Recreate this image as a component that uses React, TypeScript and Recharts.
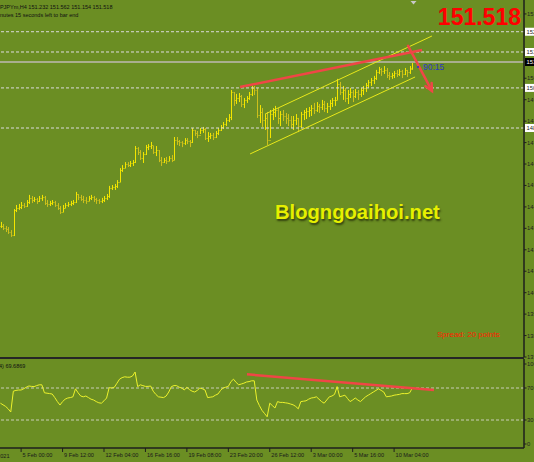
import React from 'react';
import { Bar, ComposedChart, Line, ReferenceLine, XAxis, YAxis } from 'recharts';

// GBPJPYm H4 bars, 3 Feb 2021 16:00 .. 10 Mar 2021 08:00
const highs = [
  144.06, 143.96, 143.87, 143.82, 143.68, 144.66, 144.85, 144.9, 144.99, 144.94,
  145.08, 145.32, 145.27, 145.22, 145.18, 145.27, 145.32, 145.27, 145.08, 145.04,
  145.08, 145.04, 144.94, 144.8, 144.85, 144.94, 144.99, 145.04, 145.08, 145.46,
  145.36, 145.32, 145.27, 145.22, 145.27, 145.32, 145.27, 145.18, 145.13, 145.18,
  145.27, 145.36, 145.74, 145.78, 145.83, 146.01, 146.57, 146.71, 146.85, 146.85,
  146.9, 146.95, 147.6, 147.55, 147.41, 147.32, 147.65, 147.69, 147.79, 147.6,
  147.6, 147.41, 147.09, 147.04, 147.09, 147.13, 147.18, 148.02, 148.02, 147.88,
  147.83, 147.97, 147.97, 147.88, 148.44, 148.35, 148.3, 148.44, 148.49, 148.44,
  148.25, 148.21, 148.21, 148.3, 148.44, 148.58, 148.72, 148.91, 149.09, 150.21,
  150.12, 150.03, 150.07, 149.98, 149.84, 149.93, 150.12, 150.4, 150.4, 150.31,
  149.51, 149.37, 149.09, 149.19, 149.28, 149.37, 149.47, 149.37, 149.23, 149.28,
  149.14, 149.09, 149.0, 149.0, 149.09, 148.91, 149.19, 149.28, 149.37, 149.42,
  149.51, 149.61, 149.65, 149.56, 149.75, 149.7, 149.61, 149.75, 149.84, 149.89,
  150.73, 150.59, 150.4, 150.31, 150.21, 150.31, 150.21, 150.26, 150.21, 150.31,
  150.4, 150.54, 150.68, 150.77, 150.87, 151.15, 151.29, 151.24, 151.33, 151.24,
  151.05, 151.01, 151.1, 151.15, 151.19, 151.15, 151.24, 151.15, 151.33, 151.562,
];
const lows = [
  143.78, 143.68, 143.59, 143.5, 143.36, 143.4, 144.52, 144.62, 144.66, 144.71,
  144.76, 144.9, 144.94, 144.99, 144.9, 144.99, 145.04, 144.85, 144.76, 144.8,
  144.85, 144.76, 144.62, 144.43, 144.52, 144.71, 144.76, 144.8, 144.85, 144.94,
  145.08, 145.04, 144.94, 144.9, 145.04, 145.08, 144.99, 144.9, 144.9, 144.94,
  144.99, 145.08, 145.18, 145.55, 145.55, 145.64, 145.92, 146.39, 146.57, 146.62,
  146.62, 146.67, 146.81, 147.18, 146.95, 146.81, 147.18, 147.41, 147.46, 147.23,
  147.13, 146.85, 146.67, 146.81, 146.76, 146.9, 146.85, 146.95, 147.65, 147.6,
  147.55, 147.65, 147.69, 147.55, 147.74, 148.07, 147.97, 148.16, 148.21, 147.88,
  147.79, 147.93, 147.88, 147.97, 148.11, 148.3, 148.39, 148.53, 148.72, 148.81,
  149.47, 149.56, 149.65, 149.42, 149.37, 149.61, 149.75, 149.93, 149.98, 148.91,
  148.67, 148.49, 148.35, 147.65, 147.97, 148.81, 148.95, 148.63, 148.53, 148.77,
  148.63, 148.53, 148.44, 148.35, 148.58, 148.25, 148.44, 148.81, 148.86, 148.95,
  149.0, 149.09, 149.19, 149.14, 149.28, 149.19, 149.14, 149.28, 149.42, 149.47,
  149.75, 149.98, 149.75, 149.65, 149.56, 149.84, 149.65, 149.84, 149.75, 149.89,
  149.98, 150.12, 150.31, 150.4, 150.49, 150.68, 150.96, 150.87, 150.96, 150.77,
  150.68, 150.73, 150.77, 150.82, 150.87, 150.77, 150.91, 150.82, 150.96, 151.154,
];
const closes = [
  143.87, 143.78, 143.73, 143.59, 143.45, 144.62, 144.71, 144.76, 144.85, 144.8,
  144.99, 145.18, 145.08, 145.13, 145.04, 145.18, 145.22, 144.94, 144.9, 144.94,
  144.99, 144.85, 144.71, 144.52, 144.71, 144.85, 144.9, 144.94, 144.99, 145.36,
  145.22, 145.13, 145.08, 145.04, 145.18, 145.22, 145.13, 145.08, 145.04, 145.08,
  145.18, 145.27, 145.64, 145.69, 145.74, 145.92, 146.48, 146.57, 146.76, 146.71,
  146.81, 146.85, 147.51, 147.32, 147.04, 147.23, 147.55, 147.6, 147.65, 147.32,
  147.41, 146.95, 146.85, 146.95, 146.9, 147.04, 146.95, 147.88, 147.83, 147.79,
  147.74, 147.88, 147.83, 147.79, 148.35, 148.21, 148.11, 148.35, 148.39, 147.97,
  148.07, 148.11, 148.02, 148.21, 148.35, 148.49, 148.63, 148.81, 148.95, 150.12,
  149.75, 149.84, 149.93, 149.56, 149.75, 149.84, 150.03, 150.31, 150.21, 149.05,
  149.19, 148.81, 148.91, 147.88, 149.09, 149.19, 149.28, 148.91, 149.09, 149.0,
  148.91, 148.81, 148.63, 148.81, 148.91, 148.53, 149.09, 149.19, 149.23, 149.28,
  149.37, 149.28, 149.47, 149.42, 149.56, 149.37, 149.47, 149.61, 149.75, 149.75,
  150.49, 150.12, 150.21, 149.84, 150.03, 150.12, 149.93, 150.12, 150.03, 150.21,
  150.31, 150.45, 150.59, 150.68, 150.77, 151.05, 151.19, 151.1, 151.15, 150.91,
  150.87, 150.91, 151.01, 150.96, 151.1, 150.96, 151.15, 151.05, 151.19, 151.518,
];
const lastOpen = 151.232;

const rsi = [
  51, 49, 47, 44, 40, 66, 67, 67.5, 67.5, 69,
  71, 72.5, 72, 71.7, 73, 74, 74, 64, 63.5, 63,
  62.5, 58, 53, 48.7, 53, 56, 57.5, 58, 59, 69,
  64, 60, 59, 60, 58, 56, 55, 53, 51.5, 51,
  54, 57.5, 70.5, 70, 71, 76, 81, 83, 84, 83.5,
  83.5, 85, 90, 71.7, 74, 73, 72, 72, 72.5, 66,
  62, 59, 58.5, 58, 60, 65, 71.7, 73, 73, 71,
  70, 67.5, 71, 68, 66, 65, 67, 70, 69, 67.5,
  58, 58.5, 59, 61, 62.5, 67, 70, 71, 72, 78,
  81, 77, 74, 75, 76, 77.5, 78, 79, 79, 55,
  48, 42, 38, 34, 51, 48, 45, 53, 52, 52,
  51.5, 51, 50, 49, 47, 44, 53, 53.5, 54, 56,
  57.5, 58, 59, 56, 53, 51, 55, 59, 60, 62,
  71.7, 59, 60, 61, 57, 53, 55, 57.5, 55, 53,
  56, 59, 61, 63, 65, 67, 69, 67, 65, 59,
  59.5, 60, 61, 61.5, 62, 63, 63, 63, 64, 69.69,
];

const timeTicks = [8, 24, 40, 56, 72, 88, 104, 120, 136, 152];
const timeLabels = [
  '5 Feb 00:00', '9 Feb 12:00', '12 Feb 04:00', '16 Feb 16:00', '19 Feb 08:00',
  '23 Feb 20:00', '26 Feb 12:00', '3 Mar 00:00', '5 Mar 16:00', '10 Mar 04:00',
];

const priceTicks = [
  153.76, 150.76, 149.76, 148.76, 147.76, 146.76, 145.76, 144.76, 143.76, 142.76,
  141.76, 140.76, 139.76, 138.76, 137.76,
];
const levelPrices = [152.93, 151.985, 150.31, 148.44];
const bid = 151.518;
const rsiTicks = [0, 30, 70, 100];

// trend lines, in bar index / price
const resistance = [{ x: 92.5, y: 150.35 }, { x: 162.8, y: 152.08 }];
const channelTop = [{ x: 102.2, y: 149.09 }, { x: 166.6, y: 152.73 }];
const channelBottom = [{ x: 96.4, y: 147.23 }, { x: 160.1, y: 150.82 }];
const arrowDown = [{ x: 157.4, y: 152.27 }, { x: 166.6, y: 150.17 }];
const rsiTrend = [{ x: 95.2, y: 87.1 }, { x: 167.4, y: 67.5 }];

const X_DOMAIN = [-0.154, 202.15];
const PRICE_DOMAIN = [137.76, 154.41];
const RSI_DOMAIN = [-5, 106.25];

const FONT = '"Liberation Sans", Arial, sans-serif';
const RED = '#f04646';
const AXIS = '#1e1e1e';

const candles = highs.map((high, i) => ({
  i,
  range: [lows[i], high],
  high,
  low: lows[i],
  close: closes[i],
  open: i === closes.length - 1 ? lastOpen : closes[Math.max(0, i - 1)],
}));
const rsiRows = rsi.map((v, i) => ({ i, rsi: v }));

function OhlcShape(props: any) {
  const { x, y, width, height, payload } = props;
  if (x == null || payload == null) return null;
  const cx = Math.round(x + width / 2) + 0.5;
  const span = payload.high - payload.low || 1;
  const yAt = (v: number) => Math.round(y + ((payload.high - v) / span) * height) + 0.5;
  const color = payload.close >= payload.open ? '#f3e500' : '#cdbf1c';
  return (
    <g stroke={color} strokeWidth={1}>
      <line x1={cx} x2={cx} y1={y} y2={y + height} />
      <line x1={cx - 1} x2={cx} y1={yAt(payload.open)} y2={yAt(payload.open)} />
      <line x1={cx} x2={cx + 1} y1={yAt(payload.close)} y2={yAt(payload.close)} />
    </g>
  );
}

function PriceTick(props: any) {
  const { x, y, payload } = props;
  const v = payload.value;
  const label = v.toFixed(3);
  if (v === bid) {
    return (
      <g>
        <rect x={x + 1} y={y - 4} width={14} height={8} fill="#000" />
        <text x={x + 2.5} y={y + 2.2} fontSize={5.8} fontFamily={FONT} fill="#fff">{label}</text>
      </g>
    );
  }
  if (levelPrices.includes(v)) {
    return (
      <g>
        <rect x={x + 1} y={y - 4} width={14} height={8} fill="#fff" />
        <text x={x + 2.5} y={y + 2.2} fontSize={5.8} fontFamily={FONT} fill="#222">{label}</text>
      </g>
    );
  }
  return (
    <g>
      <line x1={x} x2={x + 2.5} y1={y} y2={y} stroke={AXIS} />
      <text x={x + 3} y={y + 2} fontSize={5.8} fontFamily={FONT} fill="#222">{label}</text>
    </g>
  );
}

function RsiTick(props: any) {
  const { x, y, payload } = props;
  return (
    <g>
      <line x1={x} x2={x + 2.5} y1={y} y2={y} stroke={AXIS} />
      <text x={x + 3} y={y + 2} fontSize={5.8} fontFamily={FONT} fill="#222">{payload.value}</text>
    </g>
  );
}

function TimeTick(props: any) {
  const { x, y, payload } = props;
  const label = timeLabels[timeTicks.indexOf(payload.value)];
  return (
    <g>
      <line x1={x} x2={x} y1={y} y2={y + 4} stroke={AXIS} />
      <text x={x + 1.5} y={y + 8.8} fontSize={5.6} fontFamily={FONT} fill="#1a1a1a">{label}</text>
    </g>
  );
}

function ArrowShape(props: any) {
  const { x1, y1, x2, y2 } = props;
  if (x1 == null) return null;
  const a = Math.atan2(y2 - y1, x2 - x1);
  const len = 8;
  const p1 = [x2 - len * Math.cos(a - 0.45), y2 - len * Math.sin(a - 0.45)];
  const p2 = [x2 - len * Math.cos(a + 0.45), y2 - len * Math.sin(a + 0.45)];
  return (
    <g stroke={RED} strokeWidth={2.5} fill="none" strokeLinecap="round">
      <line x1={x1} y1={y1} x2={x2} y2={y2} />
      <polyline points={`${p1[0]},${p1[1]} ${x2},${y2} ${p2[0]},${p2[1]}`} />
    </g>
  );
}

export default function App() {
  return (
    <div
      style={{
        position: 'absolute',
        left: 0,
        top: 0,
        width: 534,
        height: 462,
        overflow: 'hidden',
        background: '#6b8e23',
        fontFamily: FONT,
      }}
    >
      <div style={{ position: 'absolute', left: 0, top: 359 }}>
        <ComposedChart width={534} height={103} data={rsiRows} margin={{ top: 0, right: 0, bottom: 0, left: 0 }}>
          <XAxis
            dataKey="i"
            type="number"
            domain={X_DOMAIN}
            allowDataOverflow
            ticks={timeTicks}
            interval={0}
            height={14}
            tickSize={0}
            tickMargin={0}
            tickLine={false}
            tick={(p: any) => <TimeTick {...p} />}
            axisLine={{ stroke: AXIS, strokeWidth: 1.5 }}
          />
          <YAxis
            orientation="right"
            width={10}
            type="number"
            domain={RSI_DOMAIN}
            allowDataOverflow
            ticks={rsiTicks}
            interval={0}
            tickSize={0}
            tickMargin={0}
            tickLine={false}
            tick={(p: any) => <RsiTick {...p} />}
            axisLine={{ stroke: AXIS, strokeWidth: 1.5 }}
          />
          <ReferenceLine y={70} stroke="#c9cdb8" strokeDasharray="3 2" />
          <ReferenceLine y={30} stroke="#c9cdb8" strokeDasharray="3 2" />
          <Line
            dataKey="rsi"
            type="linear"
            stroke="#ecf22c"
            strokeWidth={1}
            dot={false}
            isAnimationActive={false}
          />
          <ReferenceLine segment={rsiTrend} stroke={RED} strokeWidth={2.5} ifOverflow="visible" />
        </ComposedChart>
      </div>

      <div style={{ position: 'absolute', left: 0, top: 0 }}>
        <ComposedChart width={534} height={362} data={candles} margin={{ top: 0, right: 0, bottom: 5, left: 0 }}>
          <XAxis dataKey="i" type="number" domain={X_DOMAIN} allowDataOverflow hide />
          <YAxis
            orientation="right"
            width={10}
            type="number"
            domain={PRICE_DOMAIN}
            allowDataOverflow
            ticks={[...priceTicks, ...levelPrices, bid]}
            interval={0}
            tickSize={0}
            tickMargin={0}
            tickLine={false}
            tick={(p: any) => <PriceTick {...p} />}
            axisLine={{ stroke: AXIS, strokeWidth: 1.5 }}
          />
          {levelPrices.map((p) => (
            <ReferenceLine key={p} y={p} stroke="#dcdcdc" strokeDasharray="3 2" />
          ))}
          <ReferenceLine y={bid} stroke="#a9ae8e" strokeWidth={2} />
          <Bar dataKey="range" barSize={1} isAnimationActive={false} shape={(p: any) => <OhlcShape {...p} />} />
          <ReferenceLine segment={channelTop} stroke="#e8e81a" strokeWidth={1} ifOverflow="visible" />
          <ReferenceLine segment={channelBottom} stroke="#e8e81a" strokeWidth={1} ifOverflow="visible" />
          <ReferenceLine segment={resistance} stroke={RED} strokeWidth={2.5} ifOverflow="visible" />
          <ReferenceLine segment={arrowDown} ifOverflow="visible" shape={(p: any) => <ArrowShape {...p} />} />
        </ComposedChart>
      </div>

      <div style={{ position: 'absolute', left: 0, top: 357, width: 524, height: 2, background: '#262626' }} />

      <div
        style={{
          position: 'absolute',
          left: 275,
          top: 202,
          fontSize: 20.2,
          fontWeight: 700,
          color: '#e6f000',
          textShadow: '1px 2px 2px rgba(40,50,10,0.85)',
          whiteSpace: 'nowrap',
          lineHeight: 1,
        }}
      >
        Blogngoaihoi.net
      </div>

      <svg width={534} height={462} style={{ position: 'absolute', left: 0, top: 0, pointerEvents: 'none' }}>
        <polygon points="410.5,1 416.5,1 413.5,4.5" fill="#c8c8c8" />
        <text x={-8} y={8.5} fontSize={5.5} fontFamily={FONT} fill="#111">
          GBPJPYm,H4  151.232 151.562 151.154 151.518
        </text>
        <text x={-13.4} y={17} fontSize={5.5} fontFamily={FONT} fill="#111">
          90 minutes 15 seconds left to bar end
        </text>
        <text x={521} y={25} fontSize={23} fontWeight={700} fontFamily={FONT} fill="#ff0000" textAnchor="end">
          151.518
        </text>
        <circle cx={418} cy={67} r={1.1} fill="#2e38c8" />
        <text x={423} y={70} fontSize={8.5} fontFamily={FONT} fill="#2e38c8">90:15</text>
        <text x={437} y={336.5} fontSize={8} fontFamily={FONT} fill="#ff2200">Spread: 20 points</text>
        <text x={-15} y={367.5} fontSize={5.5} fontFamily={FONT} fill="#111">RSI(14) 69.6869</text>
        <text x={9.5} y={457.5} fontSize={5.6} fontFamily={FONT} fill="#1a1a1a" textAnchor="end">3 Feb 2021</text>
      </svg>
    </div>
  );
}
